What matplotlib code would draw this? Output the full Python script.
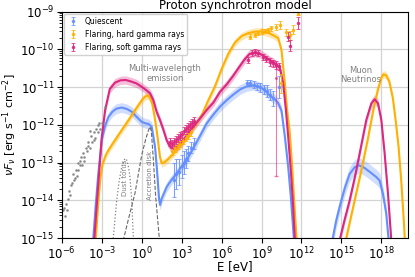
import numpy as np
import matplotlib
matplotlib.use('Agg')
import matplotlib.pyplot as plt
from matplotlib.ticker import NullLocator

# colours (quiescent, flaring hard, flaring soft)
c_q = '#648FFF'
c_h = '#FFB000'
c_s = '#DC267F'

# ---- model curves, log10(E/eV) and log10(nuFnu) ----
q_E = [-3.9, -3.63, -3.45, -3.26, -3.0, -2.75, -2.5, -2.2, -1.9, -1.5, -1.1, -0.75, -0.4, 0.0, 0.3, 0.5,
       0.75, 1.0, 1.15, 1.3, 1.38, 1.5, 1.88, 2.25, 2.63, 3.0, 3.38, 3.87, 4.4, 4.88, 5.4, 5.87, 6.4, 6.87,
       7.4, 7.88, 8.3, 8.87, 9.3, 9.62, 10.0, 10.25, 10.5, 10.75, 11.0, 11.2, 11.43, 11.55]
q_F = [-16.0, -14.97, -14.1, -13.29, -12.4, -12.02, -11.79, -11.65, -11.57, -11.54, -11.58, -11.65, -11.78,
       -11.92, -11.96, -11.97, -12.05, -12.58, -13.2, -13.95, -14.12, -13.95, -13.64, -13.45, -13.29, -13.1,
       -12.93, -12.62, -12.28, -11.96, -11.72, -11.52, -11.34, -11.2, -11.06, -10.98, -10.95, -10.99, -11.1,
       -11.22, -11.32, -11.42, -11.62, -12.3, -13.1, -13.9, -15.0, -15.8]
q_nu_E = [14.1, 14.37, 14.6, 14.87, 15.25, 15.62, 16.0, 16.32, 16.7, 17.12, 17.62, 17.87, 18.12, 18.37, 18.55, 18.7]
q_nu_F = [-15.8, -14.97, -14.55, -14.17, -13.68, -13.3, -13.12, -13.07, -13.13, -13.24, -13.38, -13.47, -13.82,
          -14.35, -15.05, -15.8]

h_E = [-3.7, -3.45, -3.25, -3.1, -2.95, -2.7, -2.5, -2.0, -1.5, -1.0, -0.5, 0.0, 0.25, 0.45, 0.62, 0.8, 1.0,
       1.2, 1.37, 1.5, 1.75, 2.0, 2.5, 3.0, 3.5, 4.0, 4.5, 5.0, 5.5, 6.0, 6.5, 7.0, 7.5, 8.0, 8.5, 9.0, 9.5,
       9.9, 10.25, 10.5, 10.75, 10.92, 11.12, 11.3, 11.45, 11.63, 11.75]
h_F = [-16.0, -15.0, -14.0, -13.4, -13.05, -12.8, -12.67, -12.4, -12.14, -11.88, -11.61, -11.35, -11.25, -11.22,
       -11.28, -11.45, -11.85, -12.35, -12.85, -13.02, -12.98, -12.9, -12.72, -12.5, -12.27, -12.02, -11.75,
       -11.35, -10.98, -10.52, -10.12, -9.82, -9.65, -9.57, -9.53, -9.52, -9.56, -9.63, -9.7, -10.02, -10.9,
       -11.6, -12.2, -13.1, -14.0, -15.0, -15.8]
h_nu_E = [15.0, 15.3, 15.9, 16.5, 17.0, 17.4, 17.75, 18.0, 18.15, 18.35, 18.6, 18.87, 19.1, 19.3, 19.5, 19.7, 19.85]
h_nu_F = [-15.8, -15.1, -14.15, -13.2, -12.35, -11.6, -11.05, -10.75, -10.66, -10.68, -10.85, -11.3, -11.95,
          -12.6, -13.5, -14.6, -15.6]

s_E = [-3.8, -3.55, -3.26, -3.0, -2.75, -2.4, -2.0, -1.6, -1.2, -0.8, -0.4, -0.13, 0.2, 0.62, 0.87, 1.12,
       1.37, 1.62, 1.87, 2.1, 2.25, 2.45, 2.63, 3.12, 3.87, 4.4, 4.87, 5.4, 5.87, 6.4, 6.87, 7.3, 7.7, 8.1,
       8.5, 8.9, 9.3, 9.6, 9.87, 10.1, 10.37, 10.62, 10.83, 11.0, 11.2, 11.35, 11.5, 11.6]
s_F = [-16.0, -14.97, -13.55, -12.32, -11.61, -11.05, -10.88, -10.82, -10.81, -10.85, -10.9, -10.96, -11.04,
       -11.16, -11.34, -11.65, -11.87, -12.12, -12.4, -12.56, -12.62, -12.63, -12.6, -12.4, -12.05, -11.82,
       -11.61, -11.4, -11.13, -10.92, -10.7, -10.48, -10.28, -10.12, -10.09, -10.12, -10.2, -10.28, -10.33,
       -10.4, -10.48, -10.88, -11.6, -12.3, -13.2, -14.0, -15.0, -15.8]
s_nu_E = [14.6, 14.87, 15.25, 15.62, 16.0, 16.37, 16.87, 17.25, 17.5, 17.75, 18.0, 18.25, 18.5, 18.75, 18.9]
s_nu_F = [-15.8, -15.05, -14.5, -14.0, -13.4, -12.76, -11.87, -11.43, -11.32, -11.43, -11.87, -12.76, -13.82,
          -15.06, -15.8]

# thermal components
dust_E = [-2.5, -2.13, -1.88, -1.7, -1.5, -1.35, -1.25, -1.13, -1.0, -0.88, -0.75, -0.63, -0.5]
dust_F = [-16.2, -14.97, -14.0, -13.5, -13.11, -12.95, -12.89, -12.93, -13.1, -13.38, -14.0, -14.97, -16.2]
disk_E = [-1.7, -1.38, -1.0, -0.5, 0.0, 0.3, 0.5, 0.62, 0.72, 0.87, 1.05, 1.32, 1.45]
disk_F = [-16.0, -15.05, -14.5, -13.8, -12.8, -12.38, -12.15, -12.05, -12.15, -12.9, -13.9, -15.0, -15.8]

# archival radio/IR points
arch_E = [-5.88, -5.8, -5.7, -5.62, -5.5, -5.4, -5.3, -5.2, -5.1, -5.0, -4.9, -4.8, -4.75, -4.65, -4.55, -4.5,
          -4.4, -4.3, -4.2, -4.1, -4.0, -3.9, -3.8, -3.7, -3.6, -3.5, -3.4, -3.3, -3.2, -3.1, -3.0, -2.78,
          -5.75, -5.45, -5.15, -4.85, -4.6, -4.35, -4.05, -3.85, -3.55, -3.25]
arch_F = [-14.25, -14.19, -14.1, -14.25, -13.95, -13.86, -13.6, -13.55, -13.45, -13.4, -13.2, -13.2, -13.0,
          -13.05, -12.85, -13.05, -12.75, -12.85, -12.6, -12.7, -12.45, -12.6, -12.3, -12.45, -12.2, -12.35,
          -12.1, -12.2, -11.95, -12.1, -11.95, -11.52,
          -14.4, -13.75, -13.3, -13.35, -12.95, -12.95, -12.55, -12.15, -12.4, -12.0]

# ---- observed data: log10 E, log10 F, log10 error ----
qx_E = [2.4, 2.6, 2.8, 3.0, 3.15, 3.3, 3.5, 3.7, 3.9]
qx_F = [-13.45, -13.3, -13.25, -13.1, -13.0, -12.9, -12.75, -12.6, -12.5]
qx_e = [0.45, 0.4, 0.35, 0.3, 0.3, 0.25, 0.2, 0.15, 0.15]
qg_E = [7.9, 8.15, 8.4, 8.65, 8.9, 9.15, 9.4, 9.65, 9.9, 10.3]
qg_F = [-10.9, -10.88, -10.93, -10.98, -11.0, -11.05, -11.1, -11.2, -11.3, -11.0]
qg_e = [0.08, 0.08, 0.1, 0.1, 0.12, 0.12, 0.15, 0.15, 0.2, 0.3]

hx_E = [2.3, 2.5, 2.7, 2.9, 3.1, 3.3, 3.5, 3.7]
hx_F = [-12.7, -12.62, -12.55, -12.5, -12.42, -12.35, -12.3, -12.2]
hx_e = [0.1, 0.1, 0.1, 0.08, 0.08, 0.08, 0.08, 0.08]
hg_E = [8.12, 8.5, 8.75, 9.0, 9.25, 9.5, 9.75, 10.07, 10.37, 10.45, 10.87, 11.12, 11.37, 11.75]
hg_F = [-9.66, -9.62, -9.56, -9.53, -9.51, -9.49, -9.44, -9.4, -9.35, -10.9, -9.55, -9.62, -9.48, -9.05]
hg_e = [0.06, 0.06, 0.06, 0.06, 0.06, 0.06, 0.07, 0.08, 0.1, 0.25, 0.1, 0.12, 0.12, 0.05]

sx_E = [2.15, 2.3, 2.45, 2.6, 2.75, 2.9, 3.05, 3.2, 3.35, 3.5, 3.65, 3.8, 3.95]
sx_F = [-12.45, -12.5, -12.45, -12.4, -12.35, -12.3, -12.25, -12.15, -12.1, -12.05, -12.0, -11.95, -11.9]
sx_e = [0.1] * 13
sg_E = [8.0, 8.25, 8.5, 8.75, 9.12, 9.37, 9.62, 9.87, 10.12, 10.3, 11.0, 11.12, 11.75]
sg_F = [-10.28, -10.1, -10.08, -10.1, -10.19, -10.25, -10.33, -10.37, -10.41, -10.45, -9.66, -9.9, -9.3]
sg_e = [0.08, 0.08, 0.08, 0.08, 0.08, 0.08, 0.1, 0.1, 0.1, 0.1, 0.13, 0.15, 0.17]
s_wide_E = 10.1
s_wide_F = -10.75
s_wide_lo = -13.35
s_wide_hi = -10.45


def p(v):
    return 10.0 ** np.asarray(v, dtype=float)


def model(ax, E, F, band, color):
    ax.fill_between(p(E), p(np.array(F) - band), p(np.array(F) + band), color=color, alpha=0.3, lw=0)
    ax.plot(p(E), p(F), color=color, lw=1.5)


def points(ax, E, F, e, color, label=None):
    F = np.asarray(F)
    e = np.asarray(e)
    y = p(F)
    ax.errorbar(p(E), y, yerr=[y - p(F - e), p(F + e) - y], fmt='o', ms=1.5, color=color,
                elinewidth=0.8, capsize=1.2, capthick=0.6, alpha=0.85, label=label)


fig = plt.figure(figsize=(4.15, 2.77), dpi=100)
ax = fig.add_axes([0.149, 0.14, 0.834, 0.818])
ax.set_xscale('log')
ax.set_yscale('log')

model(ax, q_E, q_F, 0.13, c_q)
model(ax, q_nu_E, q_nu_F, 0.2, c_q)
model(ax, h_E, h_F, 0.1, c_h)
model(ax, h_nu_E, h_nu_F, 0.1, c_h)
model(ax, s_E, s_F, 0.11, c_s)
model(ax, s_nu_E, s_nu_F, 0.12, c_s)

ax.plot(p(dust_E), p(dust_F), ls=':', color='gray', lw=0.9)
ax.plot(p(disk_E), p(disk_F), ls='--', color='dimgray', lw=0.8)
ax.plot(p(arch_E), p(arch_F), 'o', ms=0.9, color='gray', alpha=0.8, ls='none')

points(ax, qx_E, qx_F, qx_e, c_q, 'Quiescent')
points(ax, qg_E, qg_F, qg_e, c_q)
points(ax, hx_E, hx_F, hx_e, c_h, 'Flaring, hard gamma rays')
points(ax, hg_E, hg_F, hg_e, c_h)
points(ax, sx_E, sx_F, sx_e, c_s, 'Flaring, soft gamma rays')
points(ax, sg_E, sg_F, sg_e, c_s)
yw = 10.0 ** s_wide_F
ax.errorbar([10.0 ** s_wide_E], [yw], yerr=[[yw - 10.0 ** s_wide_lo], [10.0 ** s_wide_hi - yw]],
            fmt='o', ms=1.2, color=c_s, elinewidth=0.8, capsize=1.2, alpha=0.6)

ax.text(10.0 ** 1.75, 10.0 ** -10.63, 'Multi-wavelength\nemission', ha='center', va='center',
        fontsize=6, color='gray', linespacing=1.1)
ax.text(10.0 ** 16.45, 10.0 ** -10.68, 'Muon\nNeutrinos', ha='center', va='center',
        fontsize=6, color='gray', linespacing=1.1)
ax.text(10.0 ** -1.25, 10.0 ** -13.41, 'Dust torus', rotation=90, ha='center', va='center',
        fontsize=5, color='gray')
ax.text(10.0 ** 0.62, 10.0 ** -13.33, 'Accretion disk', rotation=90, ha='center', va='center',
        fontsize=5, color='gray')

ax.set_xlim(1e-6, 1e20)
ax.set_ylim(1e-15, 1e-9)
ax.set_xticks([10.0 ** k for k in range(-6, 19, 3)])
ax.xaxis.set_minor_locator(NullLocator())
ax.grid(True, which='major', color='#d3d3d3', lw=0.9)
ax.set_axisbelow(True)
ax.tick_params(labelsize=8.5, pad=2)
ax.set_xlabel('E [eV]', fontsize=8.5, labelpad=-1.5)
ax.set_ylabel(r'$\nu F_\nu$ [erg s$^{-1}$ cm$^{-2}$]', fontsize=8, labelpad=1)
ax.set_title('Proton synchrotron model', fontsize=8.5, pad=2)
ax.legend(loc='upper left', fontsize=5.5, framealpha=0.9, borderaxespad=0.3, handlelength=1.5)

fig.savefig('out.png', dpi=100)
